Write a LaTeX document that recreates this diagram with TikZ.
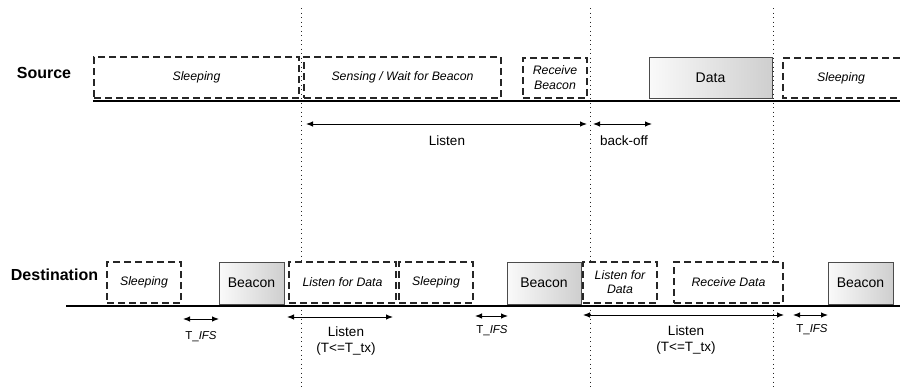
\documentclass[tikz,border=0pt]{standalone}
\usepackage{fontspec}
\setmainfont{Liberation Sans}
\usetikzlibrary{arrows.meta}
\begin{document}
\begin{tikzpicture}[x=1pt,y=-1pt,
  dline/.style={dash pattern=on 7pt off 4pt, line width=1.35pt, black!85},
  dbox/.style={draw=black!85, dline, fill=white, text=black, inner sep=0pt, minimum height=41pt, align=center, font=\fontsize{12.3}{14.5}\selectfont\itshape},
  gbox/.style={draw=black!70, line width=0.9pt, left color=gray!4, right color=gray!38, inner sep=0pt, minimum height=42pt, font=\fontsize{14}{15}\selectfont},
  tline/.style={line width=2.8pt},
  vdot/.style={line width=0.8pt, dash pattern=on 1pt off 3.5pt, black!85},
  dim/.style={line width=1pt, {Latex[length=7pt,width=5.5pt]}-{Latex[length=7pt,width=5.5pt]}},
  lbl/.style={font=\fontsize{13.5}{16.5}\selectfont, inner sep=0pt, align=center},
  small/.style={font=\fontsize{11.5}{13}\selectfont, inner sep=0pt},
  head/.style={font=\fontsize{16}{18}\selectfont\bfseries, inner sep=0pt}
]
\useasboundingbox (0,0) rectangle (900,388);

% vertical dotted lines
\coordinate (v1t) at (301,8);  \coordinate (v1b) at (301,388);
\coordinate (v2t) at (590,8);  \coordinate (v2b) at (590,388);
\coordinate (v3t) at (773,8);  \coordinate (v3b) at (773,388);
\draw[vdot] (v1t) -- (v1b);
\draw[vdot] (v2t) -- (v2b);
\draw[vdot] (v3t) -- (v3b);

% ---------------- Source ----------------
\node[head] (src) at (44,73) {Source};
\coordinate (sL) at (93,101); \coordinate (sR) at (900,101);
\draw[tline] (sL) -- (sR);

\node[dbox, minimum width=205pt] (ss1) at (196.5,77.5) {Sleeping};
\node[dbox, minimum width=197pt] (ss2) at (402.5,77.5) {Sensing / Wait for Beacon};
\node[dbox, minimum width=64pt, minimum height=40pt, font=\fontsize{12.3}{15}\selectfont\itshape] (ss3) at (555,78) {Receive\\Beacon};
\node[gbox, minimum width=123pt, minimum height=41pt] (sdata) at (710.5,77.5) {Data};
\coordinate (s4a) at (900,58); \coordinate (s4b) at (900,98);
\draw[dline] (s4a) -| (783,98) -- (s4b);
\node[font=\fontsize{12.3}{14}\selectfont\itshape, inner sep=0pt] (ss4) at (841,78) {Sleeping};

\coordinate (la) at (306,124); \coordinate (lb) at (587,124);
\draw[dim] (la) -- (lb);
\node[lbl] (llisten) at (447,141) {Listen};
\coordinate (ba) at (593,124); \coordinate (bb) at (652,124);
\draw[dim] (ba) -- (bb);
\node[lbl] (lback) at (624,141) {back-off};

% ---------------- Destination ----------------
\node[head] (dst) at (54.5,275) {Destination};
\coordinate (dL) at (66,306); \coordinate (dR) at (900,306);
\draw[tline] (dL) -- (dR);

\node[dbox, minimum width=74pt] (ds1) at (144,282.5) {Sleeping};
\node[gbox, minimum width=65pt] (db1) at (251.5,283) {Beacon};
\node[dbox, minimum width=107pt] (ds2) at (342.5,282.5) {Listen for Data};
\node[dbox, minimum width=74pt] (ds3) at (436,282.5) {Sleeping};
\node[gbox, minimum width=74pt] (db2) at (544,283) {Beacon};
\node[dbox, minimum width=74pt, font=\fontsize{12.3}{14}\selectfont\itshape] (ds4) at (620,282.5) {Listen for\\Data};
\node[dbox, minimum width=109pt] (ds5) at (728.5,282.5) {Receive Data};
\node[gbox, minimum width=65pt] (db3) at (860.5,283) {Beacon};

\coordinate (t1a) at (183,319); \coordinate (t1b) at (219,319);
\draw[dim] (t1a) -- (t1b);
\node[small] (t1) at (201,337) {T\_\textit{IFS}};

\coordinate (l1a) at (287,317); \coordinate (l1b) at (393,317);
\draw[dim] (l1a) -- (l1b);
\node[lbl] (l1) at (346,341) {Listen\\(T<=T\_tx)};

\coordinate (t2a) at (475,316); \coordinate (t2b) at (508,316);
\draw[dim] (t2a) -- (t2b);
\node[small] (t2) at (492,331) {T\_\textit{IFS}};

\coordinate (l2a) at (583,315); \coordinate (l2b) at (784,315);
\draw[dim] (l2a) -- (l2b);
\node[lbl] (l2) at (686,340) {Listen\\(T<=T\_tx)};

\coordinate (t3a) at (793,315); \coordinate (t3b) at (828,315);
\draw[dim] (t3a) -- (t3b);
\node[small] (t3) at (812,330) {T\_\textit{IFS}};
\end{tikzpicture}
\end{document}
